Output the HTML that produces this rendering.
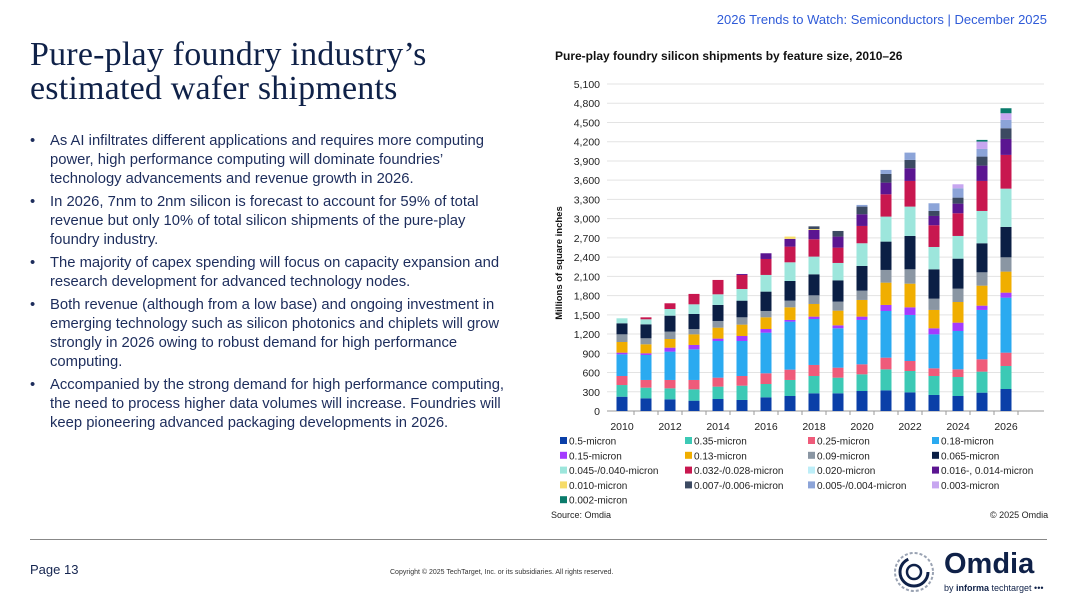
<!DOCTYPE html>
<html><head><meta charset="utf-8">
<style>
body{margin:0;width:1080px;height:608px;background:#fff;position:relative;overflow:hidden;font-family:"Liberation Sans",sans-serif;color:#14244f}
.abs{position:absolute}
#title{position:absolute;left:30px;top:38px;font-family:"Liberation Serif",serif;font-size:34px;line-height:34px;color:#0f2148;white-space:nowrap;letter-spacing:0.2px}
ul{position:absolute;left:30px;top:132px;margin:0;padding:0;list-style:none;font-size:14.8px;line-height:19px;color:#1d2d5c}
li{position:relative;padding-left:20px;margin-bottom:4px;white-space:nowrap}
li:before{content:"•";position:absolute;left:0;top:0}
</style></head><body>
<div class="abs" style="right:33px;top:12px;font-size:13px;color:#2f5bd8">2026 Trends to Watch: Semiconductors | December 2025</div>
<div id="title">Pure-play foundry industry’s<br>estimated wafer shipments</div>
<ul>
<li>As AI infiltrates different applications and requires more computing<br>power, high performance computing will dominate foundries’<br>technology advancements and revenue growth in 2026.</li>
<li>In 2026, 7nm to 2nm silicon is forecast to account for 59% of total<br>revenue but only 10% of total silicon shipments of the pure-play<br>foundry industry.</li>
<li>The majority of capex spending will focus on capacity expansion and<br>research development for advanced technology nodes.</li>
<li>Both revenue (although from a low base) and ongoing investment in<br>emerging technology such as silicon photonics and chiplets will grow<br>strongly in 2026 owing to robust demand for high performance<br>computing.</li>
<li>Accompanied by the strong demand for high performance computing,<br>the need to process higher data volumes will increase. Foundries will<br>keep pioneering advanced packaging developments in 2026.</li>
</ul>
<div class="abs" style="left:555px;top:49px;font-size:12px;font-weight:bold;color:#111">Pure-play foundry silicon shipments by feature size, 2010–26</div>
<svg id="chart" class="abs" style="left:0;top:0" width="1080" height="608"></svg>
<div class="abs" style="left:551px;top:510px;font-size:9px;color:#222">Source: Omdia</div>
<div class="abs" style="left:990px;top:510px;font-size:9px;color:#222">© 2025 Omdia</div>
<div class="abs" style="left:30px;top:539px;width:1017px;height:1px;background:#888"></div>
<div class="abs" style="left:30px;top:562px;font-size:13px;color:#14244f">Page 13</div>
<div class="abs" style="left:390px;top:569px;font-size:7px;color:#333">Copyright © 2025 TechTarget, Inc. or its subsidiaries. All rights reserved.</div>
<div class="abs" style="left:892px;top:550px;width:155px;height:46px">
<svg width="46" height="46" style="position:absolute;left:0;top:0"><circle cx="22" cy="22" r="19" fill="none" stroke="#9aa3b3" stroke-width="2" stroke-dasharray="3 2"/><circle cx="22" cy="22" r="14" fill="none" stroke="#0f2148" stroke-width="3" stroke-dasharray="60 28"/><circle cx="22" cy="22" r="7" fill="none" stroke="#0f2148" stroke-width="2.5"/></svg>
<div style="position:absolute;left:52px;top:-2px;font-size:29px;font-weight:bold;color:#0f2148">Omdia</div>
<div style="position:absolute;left:52px;top:33px;font-size:9px;color:#0f2148">by <b>informa</b> techtarget •••</div>
</div>
<script>
const years=[2010,2011,2012,2013,2014,2015,2016,2017,2018,2019,2020,2021,2022,2023,2024,2025,2026];
const seriesNames=["0.5-micron","0.35-micron","0.25-micron","0.18-micron","0.15-micron","0.13-micron","0.09-micron","0.065-micron","0.045-/0.040-micron","0.032-/0.028-micron","0.020-micron","0.016-, 0.014-micron","0.010-micron","0.007-/0.006-micron","0.005-/0.004-micron","0.003-micron","0.002-micron"];
const seriesColors=["#0a3fa8","#3cc9b5","#ef5b7a","#2aaaf0","#a43bff","#f0ae00","#8a96a3","#0b1f45","#9de6dc","#c8174f","#bdeef8","#5b1591","#f6dc6a","#3c4a62","#8ca4d8","#c7a6f0","#0a7b6b"];
const s05=[223,198,182,161,187,172,213,234,276,276,312,322,291,250,234,286,343];
const s035=[182,166,171,177,193,223,208,250,270,244,260,328,333,296,296,328,359];
const s025=[141,120,131,146,140,151,167,161,172,156,156,182,156,120,120,192,208];
const s018=[338,390,442,478,572,546,634,749,717,614,692,728,718,530,598,770,858];
const s015=[26,26,62,68,37,78,57,26,37,46,52,94,119,94,130,67,78];
const s013=[166,140,135,166,171,177,182,197,197,229,260,348,369,286,322,312,328];
const s009=[120,94,115,83,104,114,99,104,135,141,145,198,224,176,208,208,223];
const s0065=[172,218,249,234,250,260,302,307,328,332,385,442,520,458,468,453,474];
const s0045=[78,78,104,151,166,182,260,291,276,271,354,390,458,348,354,504,597];
const s0032=[0,31,89,162,224,219,249,245,270,239,270,348,400,339,354,468,526];
const s0020=[0,0,0,0,0,0,0,0,0,0,0,0,0,0,0,0,0];
const s0016=[0,0,0,0,0,15,89,120,146,172,182,182,198,145,150,239,249];
const s0010=[0,0,0,0,0,0,0,36,14,0,0,0,0,0,0,0,0];
const s0007=[0,0,0,0,0,0,0,0,42,88,120,135,130,78,94,141,167];
const s0005=[0,0,0,0,0,0,0,0,0,0,26,63,114,120,146,119,130];
const s0003=[0,0,0,0,0,0,0,0,0,0,0,0,0,0,62,115,104];
const s0002=[0,0,0,0,0,0,0,0,0,0,0,0,0,0,0,26,78];
const series=[s05,s035,s025,s018,s015,s013,s009,s0065,s0045,s0032,s0020,s0016,s0010,s0007,s0005,s0003,s0002];
const yTicks=[0,300,600,900,1200,1500,1800,2100,2400,2700,3000,3300,3600,3900,4200,4500,4800,5100];
const xLabels=[2010,2012,2014,2016,2018,2020,2022,2024,2026];

const NS="http://www.w3.org/2000/svg";
const svg=document.getElementById('chart');
const y0=411,y1=84,yMax=5100,xL=607,xR=1044;
const yScale=v=>y0-(v/yMax)*(y0-y1);
const xScale=yr=>622+(yr-2010)*24;
function mk(tag,attrs){const e=document.createElementNS(NS,tag);for(const k in attrs)e.setAttribute(k,attrs[k]);svg.appendChild(e);return e;}
yTicks.forEach(t=>{
  const g=mk('line',{x1:xL,x2:xR,y1:yScale(t),y2:yScale(t),stroke:t===0?'#999':'#e3e3e3','stroke-width':1});
  
  
  const tx=mk('text',{x:600,y:yScale(t)+4,'text-anchor':'end','font-size':10.5,fill:'#222','font-family':'Liberation Sans, sans-serif'});
  tx.textContent=t.toLocaleString('en-US');
  
  
});
xLabels.forEach(yr=>{
  const tx=mk('text',{x:xScale(yr),y:430,'text-anchor':'middle','font-size':10.5,fill:'#222','font-family':'Liberation Sans, sans-serif'});
  tx.textContent=yr;
  
  
});
years.forEach((yr,i)=>{
  const tk=mk('line',{x1:xScale(yr)+12,x2:xScale(yr)+12,y1:y0,y2:y0+4,stroke:'#999'});
  
  
  let cum=0;
  series.forEach((s,j)=>{
    const v=s[i];if(!v)return;
    const r=mk('rect',{x:xScale(yr)-5.5,width:11,y:yScale(cum+v),height:yScale(cum)-yScale(cum+v),fill:seriesColors[j]});
    
    
    cum+=v;
  });
});
const yt=mk('text',{x:0,y:0,transform:'translate(562,263) rotate(-90)','text-anchor':'middle','font-size':9.5,'font-weight':'bold',fill:'#111','font-family':'Liberation Sans, sans-serif'});
yt.textContent='Millions of square inches';


const colX=[560,685,808,932];
seriesNames.forEach((n,j)=>{
  const cx=colX[j%4],cy=441+Math.floor(j/4)*14.8;
  const sq=mk('rect',{x:cx,y:cy-4,width:7,height:7,fill:seriesColors[j]});
  
  
  const tx=mk('text',{x:cx+9,y:cy+3.5,'font-size':10,fill:'#222','font-family':'Liberation Sans, sans-serif'});
  tx.textContent=n;
  
  
});
</script>
</body></html>
